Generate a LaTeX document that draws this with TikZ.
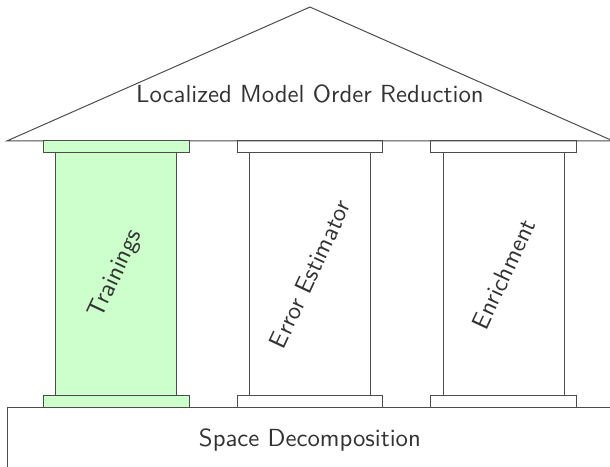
\documentclass[tikz,border=0pt]{standalone}
\usetikzlibrary{positioning}

\begin{document}
\begin{tikzpicture}[every node/.style={font=\sffamily, text=black!80}]
		\tikzstyle{shaft}=[draw=black!70, minimum width=1.72cm, minimum height=3.44cm, inner sep=0pt, outer sep=0pt]
		\tikzstyle{capital}=[draw=black!70, minimum width=2.07cm, minimum height=0.17cm, inner sep=0pt, outer sep=0pt]
		\tikzstyle{pillar text}=[rotate=65]
		\tikzstyle{trained}=[fill=green!20]
		
		\useasboundingbox (-0.1,-0.84) rectangle (8.56,5.78);
		
		% foundation and roof
		\draw[black!70] (0,-1) rectangle (8.7,0);
		\node (space) at (4.3,-0.47) {Space Decomposition};
		\draw[black!70] (0,3.78) -- (4.3,5.68) -- (8.6,3.78) -- cycle;
		\node (lmor)  at (4.3,4.45) {Localized Model Order Reduction};
		
		% pillars
		\node[shaft, trained]          (s1) at (1.55,1.89) {};
		\node[capital, trained, above=0pt of s1] (t1) {};
		\node[capital, trained, below=0pt of s1] (b1) {};
		\node[pillar text] (l1) at (s1) {Trainings};
		
		\node[shaft]                   (s2) at (4.30,1.89) {};
		\node[capital, above=0pt of s2] (t2) {};
		\node[capital, below=0pt of s2] (b2) {};
		\node[pillar text] (l2) at (s2) {Error Estimator};
		
		\node[shaft]                   (s3) at (7.05,1.89) {};
		\node[capital, above=0pt of s3] (t3) {};
		\node[capital, below=0pt of s3] (b3) {};
		\node[pillar text] (l3) at (s3) {Enrichment};
\end{tikzpicture}
\end{document}
